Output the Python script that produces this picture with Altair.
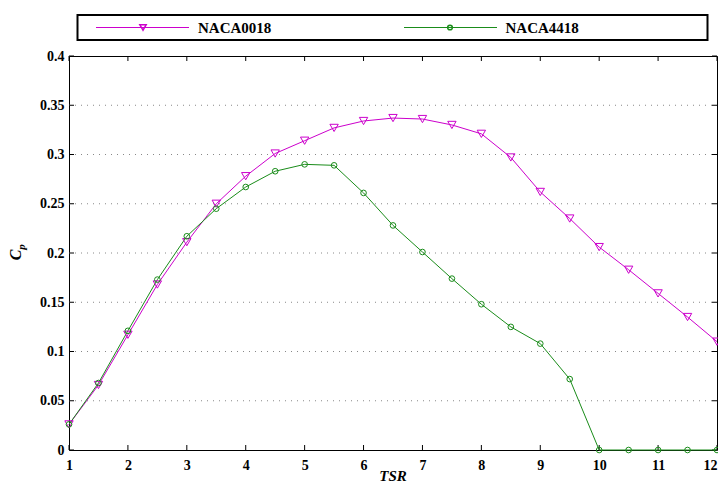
import altair as alt
import pandas as pd

# ---------------- data ----------------
tsr = [1, 1.5, 2, 2.5, 3, 3.5, 4, 4.5, 5, 5.5, 6, 6.5, 7, 7.5, 8, 8.5,
       9, 9.5, 10, 10.5, 11, 11.5, 12]
cp_naca0018 = [0.026, 0.066, 0.117, 0.168, 0.211, 0.250, 0.278, 0.301, 0.314,
               0.327, 0.334, 0.337, 0.336, 0.330, 0.321, 0.297, 0.262, 0.235,
               0.206, 0.183, 0.159, 0.135, 0.110]
cp_naca4418 = [0.026, 0.068, 0.121, 0.173, 0.217, 0.245, 0.267, 0.283, 0.290,
               0.289, 0.261, 0.228, 0.201, 0.174, 0.148, 0.125, 0.108, 0.072,
               0.0, 0.0, 0.0, 0.0, 0.0]
series_names = ["NACA0018", "NACA4418"]
series_colors = ["#cc00cc", "#1a8c1a"]
x_ticks = [1, 2, 3, 4, 5, 6, 7, 8, 9, 10, 11, 12]
y_ticks = [0, 0.05, 0.1, 0.15, 0.2, 0.25, 0.3, 0.35, 0.4]
y_grid = [0.05, 0.1, 0.15, 0.2, 0.25, 0.3, 0.35]
x_title = "TSR"
y_title_main = "C"
y_title_sub = "p"

W, H = 648, 394
SERIF = "Liberation Serif"

df = pd.DataFrame({
    "TSR": tsr * 2,
    "Cp": cp_naca0018 + cp_naca4418,
    "Airfoil": [series_names[0]] * len(tsr) + [series_names[1]] * len(tsr),
})

xs = alt.Scale(domain=[1, 12], nice=False, zero=False)
ys = alt.Scale(domain=[0, 0.4], nice=False)
color = alt.Color("Airfoil:N", scale=alt.Scale(domain=series_names, range=series_colors), legend=None)

x_axis = alt.Axis(values=x_ticks, format="d", title=None, ticks=False, tickSize=0, domain=False,
                  grid=False, labelFont=SERIF, labelFontWeight="bold", labelFontSize=14,
                  labelColor="black", labelPadding=8,
                  labelAlign={"condition": {"test": "datum.value == 12", "value": "right"}, "value": "center"})
y_axis = alt.Axis(values=y_ticks, format="~g", title=None, ticks=False, tickSize=0, domain=False,
                  grid=False, labelFont=SERIF, labelFontWeight="bold", labelFontSize=14,
                  labelColor="black", labelPadding=5)

# grid
grid = alt.Chart(pd.DataFrame({"g": y_grid})).mark_rule(
    color="#888888", strokeWidth=1, strokeDash=[1, 5]
).encode(y=alt.Y("g:Q", scale=ys, axis=y_axis), x=alt.value(0), x2=alt.value(W))

# inward ticks
yt = pd.DataFrame({"v": y_ticks})
xt = pd.DataFrame({"v": x_ticks})
tick_l = alt.Chart(yt).mark_rule(color="black").encode(
    y=alt.Y("v:Q", scale=ys, axis=y_axis), x=alt.value(0), x2=alt.value(5))
tick_r = alt.Chart(yt).mark_rule(color="black").encode(
    y=alt.Y("v:Q", scale=ys, axis=y_axis), x=alt.value(W - 5), x2=alt.value(W))
tick_b = alt.Chart(xt).mark_rule(color="black").encode(
    x=alt.X("v:Q", scale=xs, axis=x_axis), y=alt.value(H - 5), y2=alt.value(H))
tick_t = alt.Chart(xt).mark_rule(color="black").encode(
    x=alt.X("v:Q", scale=xs, axis=x_axis), y=alt.value(0), y2=alt.value(5))

base = alt.Chart(df)
lines = base.mark_line(strokeWidth=1, clip=False).encode(
    x=alt.X("TSR:Q", scale=xs, axis=x_axis),
    y=alt.Y("Cp:Q", scale=ys, axis=y_axis),
    color=color,
)
pts = base.mark_point(filled=False, strokeWidth=1, opacity=1, clip=False).encode(
    x=alt.X("TSR:Q", scale=xs, axis=x_axis),
    y=alt.Y("Cp:Q", scale=ys, axis=y_axis),
    color=color,
    shape=alt.Shape("Airfoil:N", scale=alt.Scale(domain=series_names, range=["triangle-down", "circle"]), legend=None),
    size=alt.Size("Airfoil:N", scale=alt.Scale(domain=series_names, range=[70, 32]), legend=None),
)

# manual legend
one = pd.DataFrame({"a": [0]})
leg_box = alt.Chart(one).mark_rect(fill="white", stroke="black", strokeWidth=2).encode(
    x=alt.value(8.5), x2=alt.value(638.5), y=alt.value(-41), y2=alt.value(-16))
legend_parts = [leg_box]
leg_pos = [(27, 120, 74, 129, "triangle-down", 40), (335, 428, 381, 436.5, "circle", 22)]
for name, col, (lx1, lx2, mx, tx, shp, sz) in zip(series_names, series_colors, leg_pos):
    legend_parts.append(alt.Chart(one).mark_rule(color=col, strokeWidth=1.2).encode(
        x=alt.value(lx1), x2=alt.value(lx2), y=alt.value(-28.5)))
    legend_parts.append(alt.Chart(one).mark_point(shape=shp, size=sz, color=col, filled=False,
                                                  strokeWidth=1.5, opacity=1).encode(
        x=alt.value(mx), y=alt.value(-28.5)))
    legend_parts.append(alt.Chart(pd.DataFrame({"t": [name]})).mark_text(
        font=SERIF, fontWeight="bold", fontSize=15, align="left", baseline="middle", color="black"
    ).encode(text="t:N", x=alt.value(tx), y=alt.value(-28)))

# axis titles
xt_txt = alt.Chart(pd.DataFrame({"t": [x_title]})).mark_text(
    font=SERIF, fontWeight="bold", fontStyle="italic", fontSize=15, align="center", baseline="top",
    color="black").encode(text="t:N", x=alt.value(324), y=alt.value(413))
yc_txt = alt.Chart(pd.DataFrame({"t": [y_title_main]})).mark_text(
    font=SERIF, fontWeight="bold", fontStyle="italic", fontSize=16, align="center", baseline="middle",
    angle=270, color="black").encode(text="t:N", x=alt.value(-53), y=alt.value(199))
yp_txt = alt.Chart(pd.DataFrame({"t": [y_title_sub]})).mark_text(
    font=SERIF, fontWeight="bold", fontStyle="italic", fontSize=11, align="center", baseline="middle",
    angle=270, color="black").encode(text="t:N", x=alt.value(-47), y=alt.value(191))

chart = alt.layer(
    grid, tick_l, tick_r, tick_b, tick_t, lines, pts, *legend_parts, xt_txt, yc_txt, yp_txt
).properties(
    width=W, height=H,
    padding={"left": 61, "top": 48, "right": 1, "bottom": 34},
    autosize=alt.AutoSizeParams(type="none"),
    background="white",
).configure_view(stroke="black", strokeWidth=1)

chart.save("out.html", embed_options={"renderer": "svg", "actions": False})
